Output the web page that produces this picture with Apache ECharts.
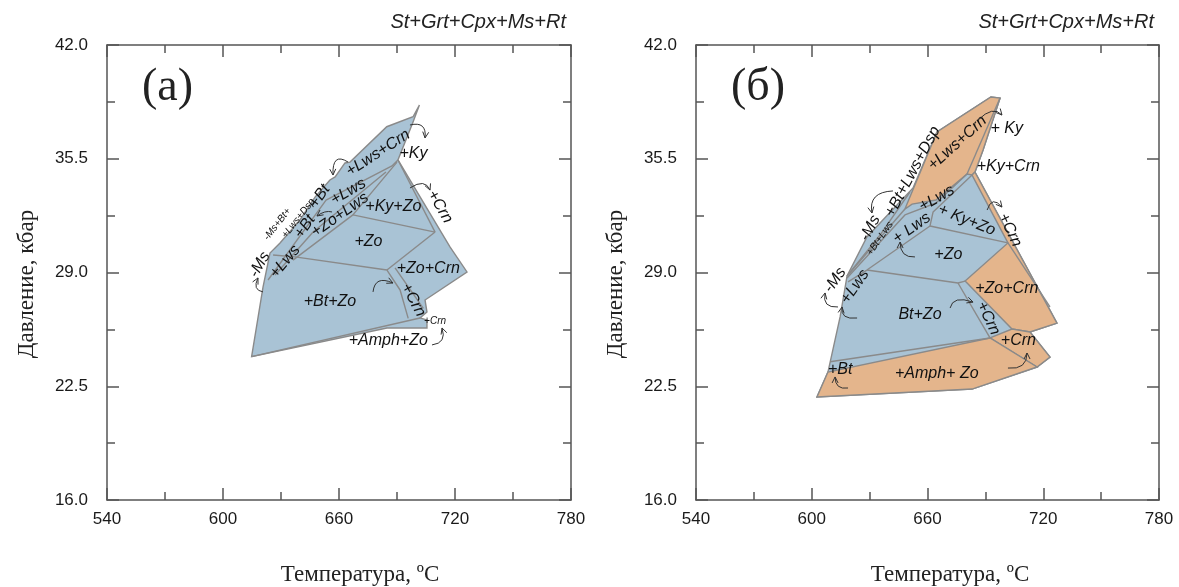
<!DOCTYPE html>
<html lang="ru">
<head>
<meta charset="UTF-8">
<title>St+Grt+Cpx+Ms+Rt</title>
<script src="https://cdn.jsdelivr.net/npm/echarts@6/dist/echarts.min.js"></script>
<style>
    html, body { margin: 0; padding: 0; background: #fff; }
    #chart { width: 1179px; height: 587px; }
</style>
</head>
<body>
<div id="chart"></div>
<script>
    // оси: T, °C и P, кбар
    var tempRange = [540, 780];
    var pressRange = [16.0, 42.0];

    // ---------- (а) ----------
    var outlineA = [
        [614.8, 24.19], [620.7, 28.17], [624.3, 30.11], [629.5, 30.69], [639.8, 32.0], [647.6, 33.31],
        [655.3, 34.29], [658.0, 34.46], [663.1, 35.26], [665.7, 35.31], [684.7, 37.33], [698.3, 37.9],
        [701.6, 38.57], [698.3, 37.6], [690.5, 35.43], [717.4, 30.46], [726.2, 29.03], [704.5, 27.43],
        [705.5, 26.74], [701.9, 26.4], [705.5, 26.29], [705.5, 25.83], [684.8, 25.83]
    ];
    var bordersA = [
        [[625.9, 30.0], [637.2, 29.89], [684.8, 29.14]],
        [[684.8, 29.14], [709.7, 31.31]],
        [[684.8, 29.14], [691.6, 28.0], [695.8, 26.38]],
        [[689.0, 29.26], [703.6, 26.95]],
        [[614.8, 24.19], [701.9, 26.4]],
        [[667.2, 32.29], [709.7, 31.31]],
        [[636.2, 29.71], [667.2, 32.29], [690.0, 35.31]],
        [[690.5, 35.43], [709.7, 31.31]],
        [[623.3, 28.57], [653.3, 33.14], [687.4, 35.09], [690.5, 35.43]],
        [[626.9, 28.86], [646.6, 31.31], [684.3, 34.74]]
    ];
    var namesA = ['+Lws+Crn', '+Ky', '+Crn', '+Lws', '+Ky+Zo', '+Zo+Lws', '+Bt', '+Bt', '-Ms+Bt+', '+Lws+Dsp',
        '-Ms', '+Lws', '+Zo', '+Zo+Crn', '+Bt+Zo', '+Crn', '+Crn', '+Amph+Zo'];
    var namePosA = [
        [680.2, 35.83], [698.5, 35.81], [712.2, 32.76], [664.8, 33.62], [688.1, 32.76], [660.5, 32.29],
        [650.0, 33.35], [642.4, 31.62], [628.1, 31.77], [639.0, 32.1], [619.0, 29.45], [632.1, 29.62],
        [675.2, 30.76], [706.2, 29.24], [655.3, 27.33], [698.4, 27.43], [709.7, 26.19], [685.5, 25.14]
    ];
    var nameStyleA = [
        [33, 16], [0, 16], [-60, 16], [30, 16], [0, 16], [35, 16], [55, 16], [55, 16], [52, 10], [52, 10],
        [60, 16], [50, 16], [0, 16], [0, 16], [0, 16], [-62, 16], [0, 10], [0, 16]
    ];
    var arrowsA = [
        [696.7, 37.43, 705.5, 37.66, 704.5, 36.69],
        [664.7, 35.31, 656.4, 35.89, 656.9, 34.57],
        [696.7, 33.83, 704.5, 34.4, 707.1, 33.71],
        [656.4, 32.46, 652.8, 32.57, 648.6, 32.23],
        [677.6, 27.89, 678.6, 28.86, 687.9, 28.4],
        [708.1, 24.86, 715.9, 24.97, 713.3, 25.83],
        [620.7, 27.89, 615.0, 28.0, 618.1, 28.69]
    ];

    // ---------- (б) ----------
    var outlineB = [
        [602.7, 21.89], [608.4, 23.31], [614.7, 26.46], [618.3, 28.8], [628.6, 31.03], [652.5, 33.83],
        [664.9, 37.03], [692.9, 39.03], [697.6, 38.97], [688.8, 36.0], [684.6, 34.74], [727.1, 26.11],
        [713.1, 25.6], [723.5, 24.17], [716.8, 23.6], [683.1, 22.34]
    ];
    var lwsCrnB = [[648.3, 32.63], [664.9, 37.03], [692.9, 39.03], [697.6, 38.97], [688.8, 36.0], [684.6, 34.74],
        [683.1, 34.57], [680.5, 34.63], [664.4, 33.14], [652.0, 32.91]];
    var kyCrnB = [[683.1, 34.57], [684.6, 34.74], [727.1, 26.11], [713.1, 25.6], [703.8, 25.77], [679.5, 28.51],
        [701.7, 30.69]];
    var crnB = [[692.4, 25.26], [703.8, 25.77], [713.1, 25.6], [723.5, 24.17], [716.8, 23.6]];
    var amphB = [[602.7, 21.89], [608.4, 23.31], [692.4, 25.26], [716.8, 23.6], [683.1, 22.34]];
    var bordersB = [
        [[697.6, 38.97], [680.5, 34.63]],
        [[628.6, 29.14], [675.8, 28.4]],
        [[675.8, 28.4], [692.4, 25.26]],
        [[675.8, 28.4], [679.5, 28.51]],
        [[661.3, 31.66], [701.7, 30.69]],
        [[701.7, 30.69], [723.5, 27.03]],
        [[609.5, 23.9], [692.4, 25.26]],
        [[618.8, 28.46], [628.6, 29.14], [661.3, 31.66], [662.9, 32.46], [683.1, 34.57]],
        [[618.3, 28.69], [648.3, 32.29], [664.4, 32.97], [680.5, 34.63]],
        [[618.3, 28.8], [648.3, 32.63]],
        [[618.3, 28.8], [635.4, 31.14], [650.9, 33.6]]
    ];
    var namesB = ['+Lws+Crn', '+ Ky', '+Ky+Crn', '+Bt+Lws+Dsp', '-Ms', '+Bt+Lws', '+Lws', '+ Lws', '+ Ky+Zo',
        '+Crn', '+Zo', '-Ms', '+Lws', '+Zo+Crn', 'Bt+Zo', '+Crn', '+Crn', '+Bt', '+Amph+ Zo'];
    var namePosB = [
        [675.5, 36.4], [701.1, 37.24], [701.9, 35.05], [652.3, 34.76], [630.2, 31.53], [635.4, 30.95],
        [664.8, 33.24], [651.8, 31.53], [680.3, 32.0], [702.8, 31.43], [670.8, 30.0], [612.1, 28.57],
        [622.4, 28.19], [701.1, 28.1], [656.1, 26.57], [691.5, 26.38], [707.1, 25.1], [614.7, 23.43],
        [664.8, 23.2]
    ];
    var nameStyleB = [
        [42, 16], [0, 16], [0, 16], [62, 16], [62, 16], [55, 10], [30, 16], [35, 16], [-22, 16],
        [-65, 16], [0, 16], [55, 16], [55, 16], [0, 16], [0, 16], [-65, 16], [0, 16], [0, 16], [0, 16]
    ];
    var arrowsB = [
        [686.2, 37.71, 694.0, 38.57, 698.6, 38.0],
        [642.1, 33.66, 629.2, 33.6, 631.2, 32.4],
        [690.9, 32.57, 693.4, 33.43, 698.6, 32.74],
        [653.5, 29.89, 645.8, 29.83, 645.8, 30.74],
        [671.7, 26.97, 673.2, 27.71, 683.6, 27.31],
        [701.7, 23.54, 711.6, 23.43, 711.6, 24.4],
        [618.8, 22.4, 612.1, 22.29, 612.1, 23.03],
        [613.6, 27.03, 605.3, 26.97, 606.9, 27.83],
        [623.5, 26.4, 614.7, 26.29, 615.7, 27.03]
    ];

    var BLUE = '#a9c3d5', ORANGE = '#e4b58c', EDGE = '#8a8a8a', AX = '#555';

    function xAx(grid, top) {
        return {
            type: 'value', gridIndex: grid, position: top ? 'top' : 'bottom',
            min: tempRange[0], max: tempRange[1], interval: 60,
            axisLine: {show: true, onZero: false, lineStyle: {color: AX, width: 1.5}},
            axisTick: {show: true, inside: true, length: 12, lineStyle: {color: AX, width: 1.5}},
            minorTick: {show: true, splitNumber: 2, length: 8, lineStyle: {color: AX, width: 1.5}},
            splitLine: {show: false},
            axisLabel: {show: !top, margin: 11, color: '#1a1a1a', fontSize: 17, fontFamily: 'Liberation Sans'}
        };
    }
    function yAx(grid, right) {
        return {
            type: 'value', gridIndex: grid, position: right ? 'right' : 'left',
            min: pressRange[0], max: pressRange[1], interval: 6.5,
            axisLine: {show: true, onZero: false, lineStyle: {color: AX, width: 1.5}},
            axisTick: {show: true, inside: true, length: 12, lineStyle: {color: AX, width: 1.5}},
            minorTick: {show: true, splitNumber: 2, length: 8, lineStyle: {color: AX, width: 1.5}},
            splitLine: {show: false},
            axisLabel: {
                show: !right, margin: 19, color: '#1a1a1a', fontSize: 17, fontFamily: 'Liberation Sans',
                formatter: function (v) { return v.toFixed(1); }
            }
        };
    }

    function polygon(pts, fill, side) {
        return {
            type: 'custom', xAxisIndex: side, yAxisIndex: side, z: fill === BLUE ? 1 : 2,
            silent: true, clip: false, animation: false,
            data: [pts[0]],
            renderItem: function (params, api) {
                return {
                    type: 'polygon',
                    shape: {points: pts.map(function (p) { return api.coord(p); })},
                    style: {fill: fill, stroke: EDGE, lineWidth: 1.4}
                };
            }
        };
    }
    function borders(list, side) {
        return list.map(function (pts) {
            return {
                type: 'line', xAxisIndex: side, yAxisIndex: side, data: pts, z: 3,
                symbol: 'none', silent: true, animation: false,
                lineStyle: {color: EDGE, width: 1.4}
            };
        });
    }
    function fieldNames(names, pos, sty, side) {
        return {
            type: 'custom', xAxisIndex: side, yAxisIndex: side, z: 5, silent: true, clip: false, animation: false,
            data: pos,
            renderItem: function (params, api) {
                var i = params.dataIndex;
                var c = api.coord([api.value(0), api.value(1)]);
                return {
                    type: 'text', x: c[0], y: c[1], rotation: sty[i][0] * Math.PI / 180,
                    style: {
                        text: names[i], fontSize: sty[i][1], fontStyle: 'italic', fontFamily: 'Liberation Sans',
                        fill: '#111', align: 'center', verticalAlign: 'middle'
                    }
                };
            }
        };
    }
    function arrows(list, side) {
        return {
            type: 'custom', xAxisIndex: side, yAxisIndex: side, z: 5, silent: true, clip: false, animation: false,
            data: list,
            renderItem: function (params, api) {
                var p0 = api.coord([api.value(0), api.value(1)]);
                var pc = api.coord([api.value(2), api.value(3)]);
                var p1 = api.coord([api.value(4), api.value(5)]);
                var dx = p1[0] - pc[0], dy = p1[1] - pc[1];
                var len = Math.sqrt(dx * dx + dy * dy) || 1;
                var ux = dx / len, uy = dy / len, a = 6, w = 3;
                var l = [p1[0] - ux * a - uy * w, p1[1] - uy * a + ux * w];
                var r = [p1[0] - ux * a + uy * w, p1[1] - uy * a - ux * w];
                return {
                    type: 'group', children: [
                        {type: 'bezierCurve', shape: {x1: p0[0], y1: p0[1], cpx1: pc[0], cpy1: pc[1], x2: p1[0], y2: p1[1]},
                            style: {stroke: '#333', fill: 'none', lineWidth: 1}},
                        {type: 'polyline', shape: {points: [l, p1, r]}, style: {stroke: '#333', fill: 'none', lineWidth: 1}}
                    ]
                };
            }
        };
    }

    var titleFont = {fontStyle: 'italic', fontWeight: 'normal', fontSize: 20, fontFamily: 'Liberation Sans', color: '#222'};
    var panelFont = {fontWeight: 'normal', fontSize: 46, fontFamily: 'Liberation Serif', color: '#222'};
    var axisNameFont = '23px "Liberation Serif"';

    var option = {
        backgroundColor: '#fff',
        animation: false,
        title: [
            {text: 'St+Grt+Cpx+Ms+Rt', right: 1179 - 571, top: 7, textStyle: titleFont},
            {text: 'St+Grt+Cpx+Ms+Rt', right: 1179 - 1159, top: 7, textStyle: titleFont},
            {text: '(а)', left: 137, top: 60, textStyle: panelFont},
            {text: '(б)', left: 726, top: 60, textStyle: panelFont}
        ],
        grid: [
            {left: 107, top: 45, width: 464, height: 455},
            {left: 696, top: 45, width: 463, height: 455}
        ],
        xAxis: [xAx(0, false), xAx(1, false), xAx(0, true), xAx(1, true)],
        yAxis: [yAx(0, false), yAx(1, false), yAx(0, true), yAx(1, true)],
        graphic: [
            {type: 'text', x: 27, y: 284, rotation: Math.PI / 2,
                style: {text: 'Давление, кбар', font: axisNameFont, fill: '#222', align: 'center', verticalAlign: 'middle'}},
            {type: 'text', x: 616, y: 284, rotation: Math.PI / 2,
                style: {text: 'Давление, кбар', font: axisNameFont, fill: '#222', align: 'center', verticalAlign: 'middle'}},
            {type: 'text', x: 360, y: 575,
                style: {text: 'Температура, ºC', font: axisNameFont, fill: '#222', align: 'center', verticalAlign: 'middle'}},
            {type: 'text', x: 950, y: 575,
                style: {text: 'Температура, ºC', font: axisNameFont, fill: '#222', align: 'center', verticalAlign: 'middle'}}
        ],
        series: [].concat(
            [polygon(outlineA, BLUE, 0)],
            borders(bordersA, 0),
            [fieldNames(namesA, namePosA, nameStyleA, 0), arrows(arrowsA, 0)],
            [polygon(outlineB, BLUE, 1), polygon(lwsCrnB, ORANGE, 1), polygon(kyCrnB, ORANGE, 1),
                polygon(crnB, ORANGE, 1), polygon(amphB, ORANGE, 1)],
            borders(bordersB, 1),
            [fieldNames(namesB, namePosB, nameStyleB, 1), arrows(arrowsB, 1)]
        )
    };

    var myChart = echarts.init(document.getElementById('chart'));
    myChart.setOption(option);
</script>
</body>
</html>
